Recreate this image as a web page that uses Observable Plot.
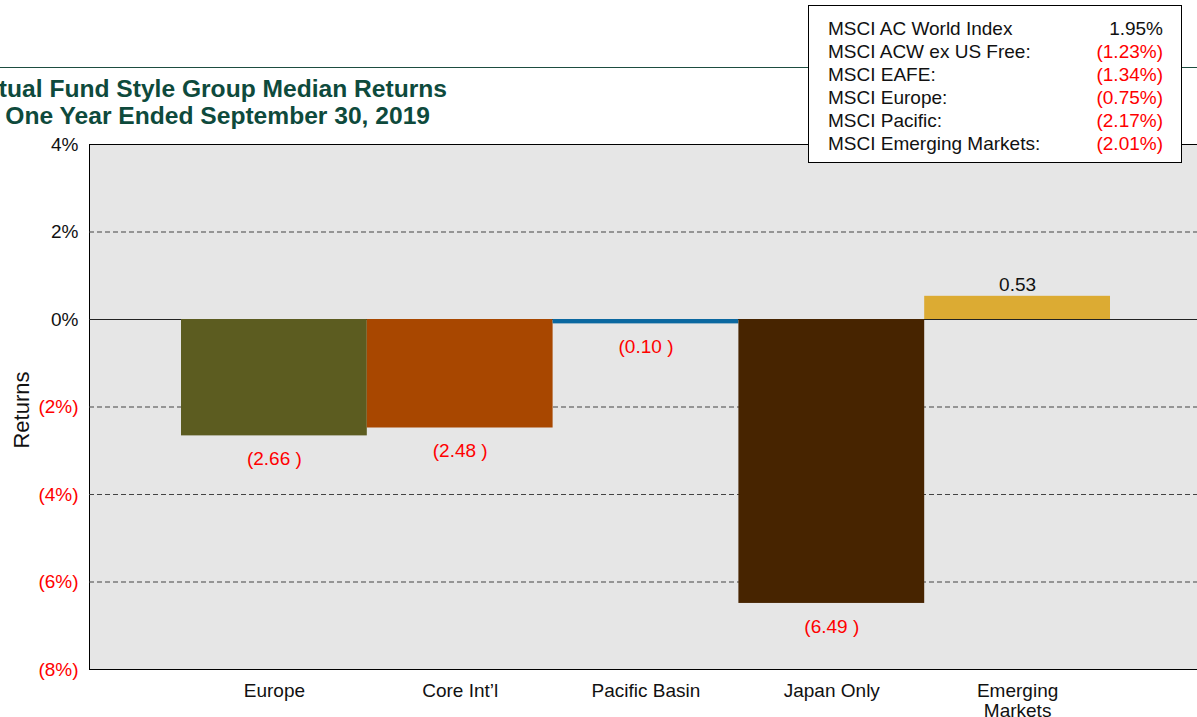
<!DOCTYPE html>
<html>
<head>
<meta charset="utf-8">
<script src="https://cdn.jsdelivr.net/npm/d3@7"></script>
<script src="https://cdn.jsdelivr.net/npm/@observablehq/plot@0.6"></script>
<style>
  html, body { margin: 0; padding: 0; background: white; overflow: hidden; }
  #chart { position: relative; width: 1197px; height: 717px; overflow: hidden; }
</style>
</head>
<body>
<div id="chart"></div>
<script>
const categories = ["Europe", "Core Int’l", "Pacific Basin", "Japan Only", "Emerging\nMarkets"];
const returns = [-2.66, -2.48, -0.10, -6.49, 0.53];
const barColors = ["#5c5c20", "#a84700", "#0b68a0", "#472400", "#dcab33"];
const indexNames = ["MSCI AC World Index", "MSCI ACW ex US Free:", "MSCI EAFE:", "MSCI Europe:", "MSCI Pacific:", "MSCI Emerging Markets:"];
const indexValues = [1.95, -1.23, -1.34, -0.75, -2.17, -2.01];
const yTicks = [-8, -6, -4, -2, 0, 2, 4];
const gridTicks = [2, -2, -4, -6];
const titleLines = ["Mutual Fund Style Group Median Returns", "One Year Ended September 30, 2019"];
const yLabel = "Returns";

const FONT = "'Liberation Sans', Arial, Helvetica, sans-serif";
const RED = "#ff0000";

const data = categories.map((c, i) => ({cat: c, value: returns[i], color: barColors[i]}));
const fmtTick = d => d < 0 ? `(${-d}%)` : `${d}%`;
const fmtVal = v => v < 0 ? `(${(-v).toFixed(2)} )` : v.toFixed(2);

const plot = Plot.plot({
  width: 1199,
  height: 717,
  marginTop: 144,
  marginBottom: 48,
  marginLeft: 89,
  marginRight: 0,
  style: {fontFamily: FONT, maxWidth: "none", overflow: "visible", background: "transparent"},
  x: {type: "band", domain: categories, range: [181, 1110], padding: 0, round: false, axis: null},
  y: {domain: [-8, 4], axis: null},
  marks: [
    Plot.frame({fill: "#e6e6e6", stroke: "black", strokeWidth: 1}),
    Plot.ruleY(gridTicks, {stroke: "#444", strokeDasharray: "5,3", strokeWidth: 1}),
    Plot.ruleY([0], {stroke: "#222", strokeWidth: 1}),
    Plot.barY(data, {x: "cat", y: "value", fill: "color", insetLeft: 0, insetRight: 0}),
    Plot.text(data.filter(d => d.value < 0), {x: "cat", y: "value", text: d => fmtVal(d.value), fill: RED, fontSize: 19, lineAnchor: "middle", dy: 23}),
    Plot.text(data.filter(d => d.value >= 0), {x: "cat", y: "value", text: d => fmtVal(d.value), fill: "#111", fontSize: 19, lineAnchor: "middle", dy: -11}),
    Plot.text(yTicks, {y: d => d, text: fmtTick, frameAnchor: "left", textAnchor: "end", dx: -11, fontSize: 19, fill: d => d < 0 ? RED : "#111", lineAnchor: "middle"}),
    Plot.text(categories, {x: d => d, text: d => d, frameAnchor: "bottom", lineAnchor: "top", dy: 14, fontSize: 19, fill: "#111", lineHeight: 1.02})
  ]
});

const svg = d3.select(plot);
// Y label
svg.append("text").attr("transform", "translate(21,410) rotate(-90)")
  .attr("text-anchor", "middle").attr("dominant-baseline", "central")
  .attr("font-family", FONT).attr("font-size", 22).attr("fill", "#111").text(yLabel);
// Title rule line
svg.append("line").attr("x1", 0).attr("x2", 1199).attr("y1", 67.5).attr("y2", 67.5)
  .attr("stroke", "#1d4d40").attr("stroke-width", 1.2);
// Title
const titleEnds = [447, 430];
const titleBase = [97, 124];
titleLines.forEach((t, i) => {
  svg.append("text").attr("x", titleEnds[i]).attr("y", titleBase[i])
    .attr("text-anchor", "end").attr("font-family", FONT).attr("font-weight", "bold")
    .attr("font-size", 24.6).attr("fill", "#0e4a3c").text(t);
});
// Legend box
const lg = svg.append("g");
lg.append("rect").attr("x", 808.5).attr("y", 5.5).attr("width", 373).attr("height", 157)
  .attr("fill", "white").attr("stroke", "black").attr("stroke-width", 1);
indexNames.forEach((n, i) => {
  const y = 35 + i * 23;
  lg.append("text").attr("x", 828).attr("y", y).attr("text-anchor", "start").attr("font-family", FONT).attr("font-size", 19)
    .attr("fill", "#111").text(n);
  const v = indexValues[i];
  lg.append("text").attr("x", 1163).attr("y", y).attr("text-anchor", "end").attr("font-family", FONT)
    .attr("font-size", 19).attr("fill", v < 0 ? RED : "#111")
    .text(v < 0 ? `(${(-v).toFixed(2)}%)` : `${v.toFixed(2)}%`);
});

document.getElementById("chart").appendChild(plot);
</script>
</body>
</html>
